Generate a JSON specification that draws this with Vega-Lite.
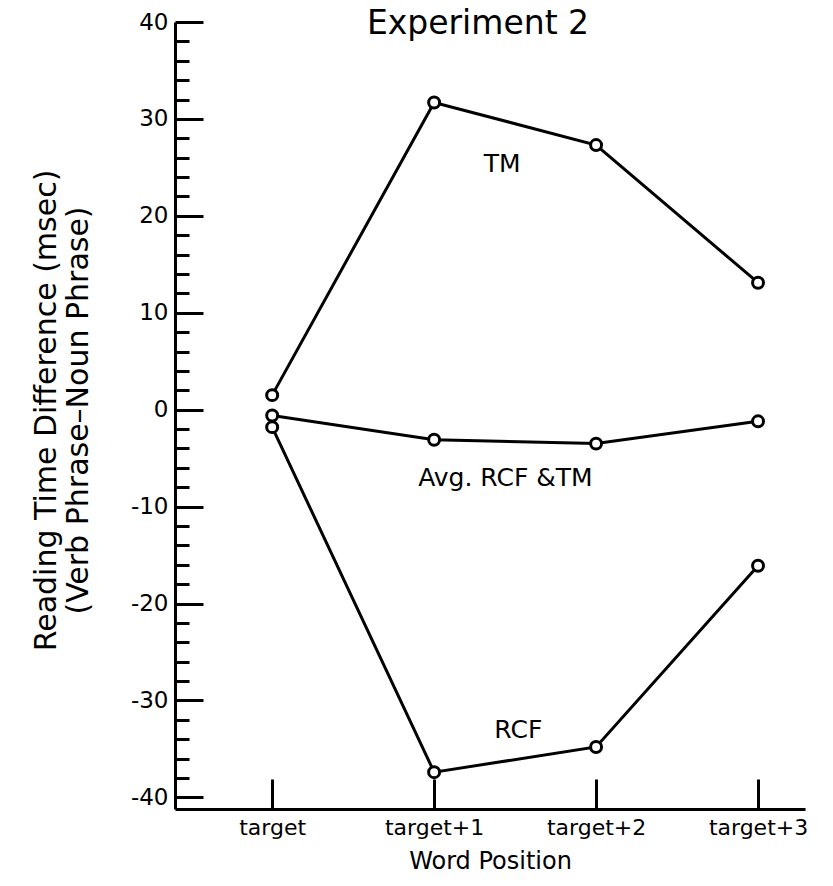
{
  "$schema": "https://vega.github.io/schema/vega-lite/v6.json",
  "width": 630,
  "height": 787,
  "autosize": {"type": "none"},
  "padding": {"left": 175, "top": 22, "right": 28, "bottom": 77},
  "background": "white",
  "config": {
    "view": {"stroke": null},
    "font": "DejaVu Sans",
    "axis": {"labelFont": "DejaVu Sans", "titleFont": "DejaVu Sans", "labelColor": "black", "titleColor": "black", "domainColor": "black", "tickColor": "black", "grid": false}
  },
  "title": {
    "text": "Experiment 2",
    "font": "DejaVu Sans",
    "fontSize": 33,
    "fontWeight": "normal",
    "color": "black",
    "frame": "group",
    "baseline": "top",
    "offset": 0,
    "dy": 30,
    "dx": -12
  },
  "datasets": {
    "series": [
      {"position": 0, "series": "TM", "diff": 1.5},
      {"position": 1, "series": "TM", "diff": 31.7},
      {"position": 2, "series": "TM", "diff": 27.3},
      {"position": 3, "series": "TM", "diff": 13.1},
      {"position": 0, "series": "Avg. RCF & TM", "diff": -0.6},
      {"position": 1, "series": "Avg. RCF & TM", "diff": -3.1},
      {"position": 2, "series": "Avg. RCF & TM", "diff": -3.5},
      {"position": 3, "series": "Avg. RCF & TM", "diff": -1.2},
      {"position": 0, "series": "RCF", "diff": -1.8},
      {"position": 1, "series": "RCF", "diff": -37.4},
      {"position": 2, "series": "RCF", "diff": -34.8},
      {"position": 3, "series": "RCF", "diff": -16.1}
    ],
    "labels": [
      {"position": 1.42, "diff": 25.3, "label": "TM"},
      {"position": 1.44, "diff": -7.1, "label": "Avg. RCF &TM"},
      {"position": 1.52, "diff": -33.1, "label": "RCF"}
    ]
  },
  "encoding": {
    "x": {
      "field": "position",
      "type": "quantitative",
      "scale": {"domain": [-0.6, 3.29], "nice": false, "zero": false},
      "axis": {
        "values": [0, 1, 2, 3],
        "labelExpr": "['target','target+1','target+2','target+3'][datum.value]",
        "tickSize": -30,
        "tickWidth": 3,
        "domainWidth": 3,
        "labelFontSize": 22,
        "labelPadding": 38,
        "labelFlush": false,
        "title": "Word Position",
        "titleFontSize": 24,
        "titleFontWeight": "normal",
        "titlePadding": 11
      }
    },
    "y": {
      "field": "diff",
      "type": "quantitative",
      "scale": {"domain": [-41.2, 40], "nice": false, "zero": false},
      "axis": {
        "values": [-40,-38,-36,-34,-32,-30,-28,-26,-24,-22,-20,-18,-16,-14,-12,-10,-8,-6,-4,-2,0,2,4,6,8,10,12,14,16,18,20,22,24,26,28,30,32,34,36,38,40],
        "labelExpr": "datum.value % 10 === 0 ? replace(datum.label, '−', '-') : ''",
        "tickSize": {"condition": {"test": "datum.value % 10 === 0", "value": -28}, "value": -14},
        "tickWidth": 3,
        "domainWidth": 3,
        "labelFontSize": 23,
        "labelPadding": 35,
        "labelOverlap": false,
        "labelFlush": false,
        "title": ["Reading  Time  Difference  (msec)", "(Verb Phrase–Noun Phrase)"],
        "titleFontSize": 30,
        "titleFontWeight": "normal",
        "titleLineHeight": 32,
        "titleAngle": -90,
        "titleAlign": "center",
        "titleBaseline": "middle",
        "titleX": -129,
        "titleY": 388
      }
    }
  },
  "layer": [
    {
      "mark": {"type": "rule", "color": "black", "strokeWidth": 2.5},
      "encoding": {"y": {"datum": 0}, "x": null}
    },
    {
      "data": {"name": "series"},
      "mark": {"type": "line", "color": "black", "strokeWidth": 3},
      "encoding": {"detail": {"field": "series"}}
    },
    {
      "data": {"name": "series"},
      "mark": {"type": "circle", "fill": "white", "stroke": "black", "strokeWidth": 3, "size": 120, "opacity": 1}
    },
    {
      "data": {"name": "labels"},
      "mark": {"type": "text", "font": "DejaVu Sans", "fontSize": 25, "color": "black", "align": "center", "baseline": "middle"},
      "encoding": {"text": {"field": "label"}}
    }
  ]
}
